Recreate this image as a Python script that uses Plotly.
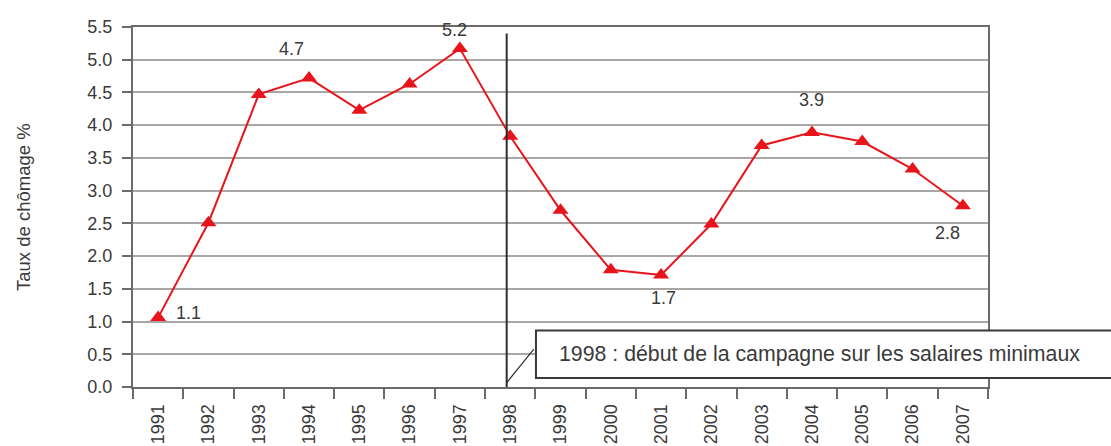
import plotly.graph_objects as go

years = [str(y) for y in range(1991, 2008)]
rates = [1.06, 2.51, 4.47, 4.72, 4.23, 4.63, 5.17, 3.83, 2.70, 1.79, 1.71,
         2.49, 3.69, 3.89, 3.75, 3.33, 2.77]

label_years = ["1991", "1994", "1997", "2001", "2004", "2007"]
label_texts = ["1.1", "4.7", "5.2", "1.7", "3.9", "2.8"]
label_shift_x = [30, -18, -5, 2, 0, -15]
label_shift_y = [5, 29, 19, -23, 32, -27]

y_title = "Taux de chômage %"
callout_text = "1998 : début de la campagne sur les salaires minimaux"
event_year = "1998"

FONT = "Liberation Sans, Arial, sans-serif"
RED = "#e8141c"
TXT = "#3a3a3a"

fig = go.Figure()
fig.add_trace(go.Scatter(
    x=years, y=rates, mode="lines+markers",
    line=dict(color=RED, width=2),
    marker=dict(symbol="triangle-up", size=14, color=RED),
    cliponaxis=False, hoverinfo="skip",
))

annotations = []
for yr, txt, dx, dy in zip(label_years, label_texts, label_shift_x, label_shift_y):
    i = years.index(yr)
    annotations.append(dict(
        xref="x", yref="y",
        x=i, y=rates[i], text=txt, showarrow=False,
        xshift=dx, yshift=dy, font=dict(family=FONT, size=18, color=TXT),
    ))

# y-axis title
annotations.append(dict(
    xref="paper", yref="paper", x=0, y=0.5, xshift=-110, text=y_title,
    textangle=-90, showarrow=False, xanchor="center", yanchor="middle",
    font=dict(family=FONT, size=18.5, color=TXT),
))
# callout text
annotations.append(dict(
    xref="paper", yref="y", x=0.496, y=0.5, text=callout_text,
    showarrow=False, xanchor="left", yanchor="middle",
    font=dict(family=FONT, size=21.3, color=TXT),
))

ev = years.index(event_year)
shapes = [
    # vertical event line
    dict(type="line", xref="x", yref="y", x0=ev - 0.07, x1=ev - 0.07, y0=0, y1=5.4,
         line=dict(color="#2e2e2e", width=2), layer="above"),
    # callout box
    dict(type="rect", xref="paper", yref="y", x0=0.4713, x1=1.146, y0=0.137, y1=0.863,
         line=dict(color="#3a3a3a", width=2), fillcolor="white", layer="above"),
    # leader line
    dict(type="line", xref="x", yref="y", x0=ev - 0.07, y0=0.066, x1=ev + 0.47, y1=0.58,
         line=dict(color="#2e2e2e", width=1.2), layer="above"),
]

fig.update_layout(
    width=1111, height=446,
    margin=dict(l=133, r=123, t=27, b=59, autoexpand=False),
    paper_bgcolor="white", plot_bgcolor="white",
    showlegend=False,
    annotations=annotations, shapes=shapes,
    font=dict(family=FONT, size=18, color=TXT),
)
fig.update_xaxes(
    type="category", tickangle=-90, tickson="boundaries", automargin=False,
    ticks="outside", ticklen=10, tickcolor="#6e6a68", tickwidth=1.5,
    showline=True, linecolor="#6e6a68", linewidth=2, mirror=True,
    showgrid=False, tickfont=dict(family=FONT, size=18, color=TXT),
    ticklabelstandoff=8,
    range=[-0.5, len(years) - 0.5],
)
fig.update_yaxes(
    range=[0, 5.5], dtick=0.5, tickformat=".1f", automargin=False,
    ticks="outside", ticklen=9, tickcolor="#6e6a68", tickwidth=1.5,
    showline=True, linecolor="#6e6a68", linewidth=2, mirror=True,
    showgrid=True, gridcolor="#aaa6a4", gridwidth=1.5,
    zeroline=False, ticklabelstandoff=6,
    tickfont=dict(family=FONT, size=18, color=TXT),
)

fig.write_html(
    "out.html",
    config={"displayModeBar": False},
    post_script="document.body.style.margin='0';document.body.style.overflow='hidden';",
)
